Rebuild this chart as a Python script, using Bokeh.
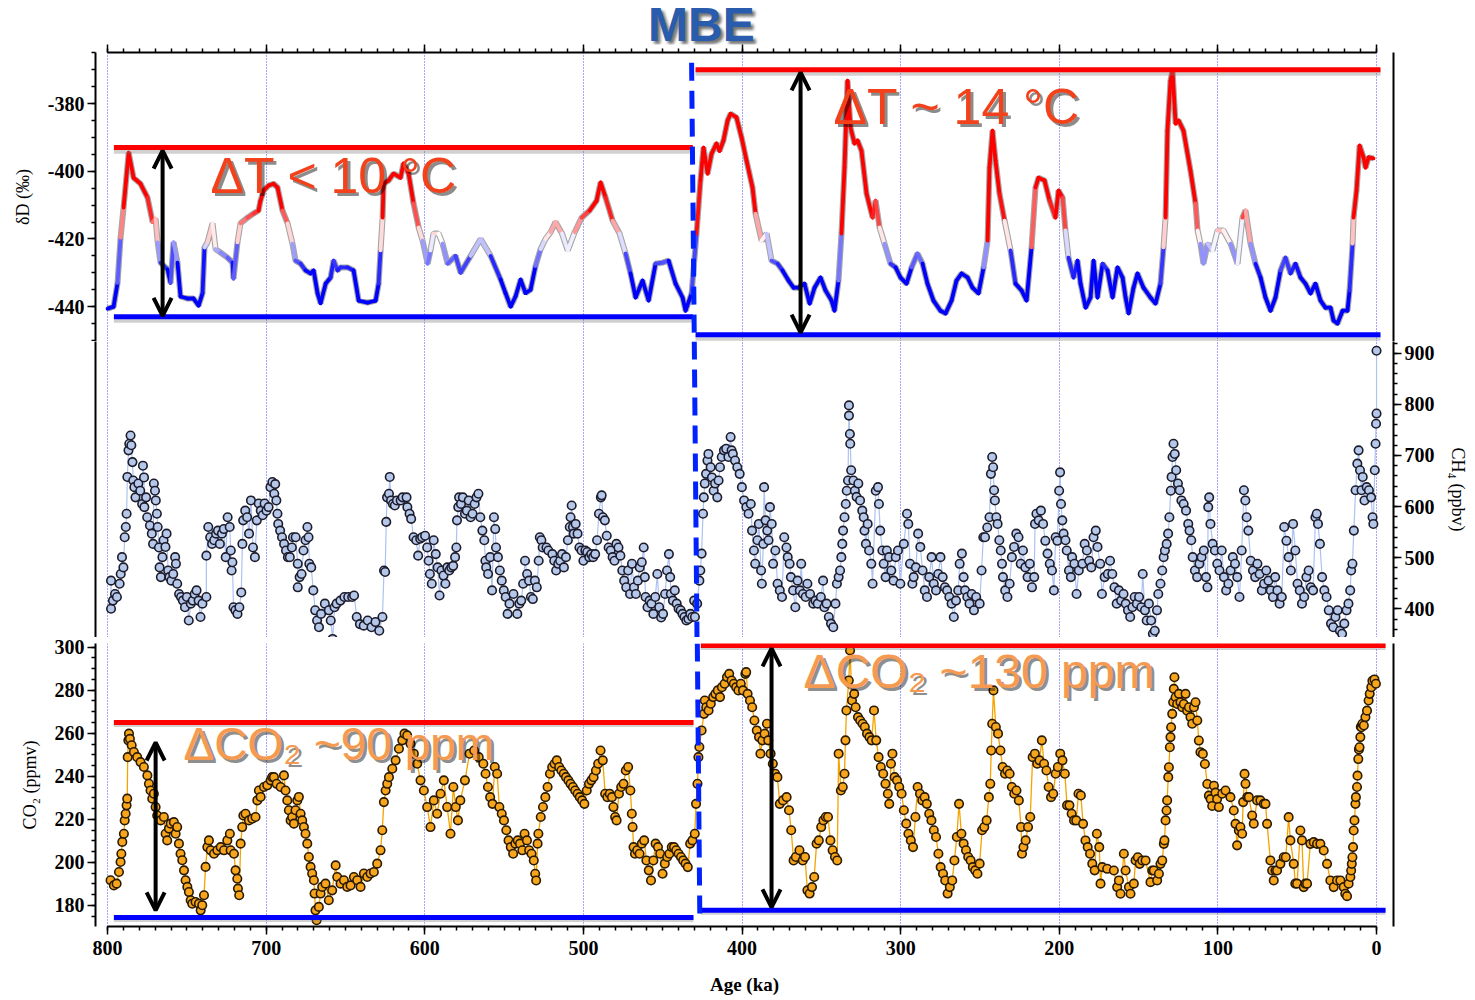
import numpy as np
from bokeh.plotting import figure
from bokeh.models import (Range1d, LinearAxis, SingleIntervalTicker, FixedTicker, Grid,
                          Label, Arrow, OpenHead, ColumnDataSource, Div)
from bokeh.transform import linear_cmap
from bokeh.layouts import column
from bokeh.embed import file_html
from bokeh.resources import INLINE

# ---------------- data ----------------
# deuterium record (permil) vs age (ka)
dD_age = [800, 796.2, 793.7, 791.8, 789.9, 786.7, 783.6, 779.2, 774.8, 771.6,
          769.7, 768.4, 766.6, 762.2, 760.3, 758.4, 755.9, 754, 749.6, 745.8,
          742.6, 740.1, 738.9, 737, 733.8, 731.9, 728.8, 724.4, 721.2, 720.6,
          718.1, 716.2, 711.8, 708, 704.8, 703.6, 701.6, 698.5, 695.3, 692.8,
          689.7, 686.5, 683.4, 681.5, 678.3, 675.2, 672, 670.1, 667.6, 665.7,
          662.5, 659.4, 657.5, 655, 653.1, 648.7, 644.9, 641.7, 636.1, 631,
          629.1, 627.9, 626.6, 626, 622.8, 619.7, 615.3, 613.4, 610.2, 607.1,
          603.9, 601.4, 598.2, 596.4, 594.5, 591.3, 588.8, 585.6, 580.6, 577.4,
          571.1, 564.8, 558.5, 552.2, 549.1, 545.9, 542.8, 539.6, 536.5, 533.3,
          530.2, 527, 523.9, 520.7, 517.6, 513.5, 509.9, 505.5, 501.1, 496.1,
          491.7, 489.2, 486, 481.6, 477.2, 473.4, 470.3, 467.1, 462.7, 458.9,
          454.5, 450.1, 446.3, 441.9, 437.5, 435.6, 431.8, 428.7, 426.2, 424.3,
          421.7, 419.2, 416.1, 414.2, 411.7, 409.1, 407.2, 403.5, 400.3, 397.2,
          393.4, 391.5, 387.7, 384.5, 381.4, 377.6, 374.5, 370.7, 367.5, 364.4,
          360.6, 357.4, 354.3, 350.5, 347.4, 343.6, 341.7, 339.2, 337.3, 335.4,
          333.5, 331.6, 329.1, 327.2, 324.7, 321.5, 317.7, 315.8, 313.3, 310.2,
          306.4, 303.2, 300.1, 296.3, 293.1, 289.4, 286.2, 283.1, 279.3, 274.9,
          271.7, 267.9, 264.8, 261.6, 257.8, 254.7, 250.9, 247.7, 245.2, 244,
          242.1, 240.2, 237.7, 234.5, 230.7, 227.6, 223.8, 220.6, 217.5, 215,
          213.1, 209.3, 206.1, 202.4, 200.5, 197.9, 196.1, 194.2, 191, 188.5,
          186.6, 183.4, 180.3, 178.4, 175.9, 172.7, 169.6, 166.4, 163.3, 160.1,
          158.2, 156.3, 153.2, 150.7, 146.9, 142.5, 139.3, 136.2, 134.3, 133,
          131.8, 129.9, 128.6, 126.7, 124.8, 121.7, 117.3, 114.1, 112.8, 111,
          109.1, 106.5, 103.4, 100.2, 96.5, 92, 87.6, 84.5, 82.6, 79.4,
          76.3, 73.1, 70, 66.8, 63.7, 60.5, 57.4, 54.2, 51.1, 47.9,
          44.8, 41.6, 38.5, 35.3, 32.2, 29, 27.1, 24.6, 21.4, 18.3,
          17, 15.1, 14.5, 12.6, 10.7, 8.2, 6.9, 5, 1.9]
dD_val = [-440.6, -440, -433, -419.6, -410.7, -394.5, -401.9, -403.7, -407.8, -415,
          -414, -421, -427, -429, -433, -421, -427, -437, -437.6, -437.6,
          -439.7, -436, -422.5, -421, -415.4, -423, -424, -425.5, -427, -431.7,
          -421, -415.4, -413.7, -412.5, -411.6, -408.7, -405.7, -404.2, -403.7, -404.8,
          -411.6, -415.4, -421.4, -426.4, -427.3, -429.3, -430.2, -429.3, -436.1, -439,
          -433.2, -431.4, -426.4, -429.3, -428.4, -428.4, -429.3, -438.2, -438.8, -438.2,
          -433.2, -423.4, -413.7, -403.7, -402.7, -400.7, -401.9, -397.7, -400.7, -409.5,
          -416.6, -420.5, -427.3, -423.4, -418.4, -418.4, -421.4, -427.3, -425, -430,
          -425, -420, -425, -432, -436, -440, -437, -432, -436, -435,
          -428, -423, -420, -418, -415, -418.4, -423.4, -418, -413.7, -411.6,
          -408.7, -403.3, -407.8, -414.6, -418.4, -424.3, -430.2, -437.3, -432.3, -438.2,
          -427.3, -427, -426.4, -433.2, -437.3, -441.2, -436.1, -418.4, -402.7, -393,
          -400.7, -394.8, -391.8, -394, -390.9, -385, -383, -384.1, -390, -396.8,
          -404.8, -412.5, -420.5, -418.4, -426.4, -427.3, -429.3, -432.3, -434.4, -434.4,
          -433.2, -439.1, -434.4, -431.4, -435.2, -438.2, -441.2, -432.3, -418.4, -398.9,
          -373.2, -387.1, -391.8, -390.9, -393.9, -406.6, -413.7, -408.7, -416.6, -421.4,
          -427.3, -428.4, -431.4, -433.2, -428.4, -424.3, -427.3, -433.2, -438.2, -441.2,
          -442, -438.2, -432.3, -430.2, -431.4, -434.4, -436.1, -428.4, -420.5, -398.9,
          -388, -396.8, -406.6, -414.6, -423.4, -433.2, -435.2, -438.2, -422.5, -404.8,
          -401.9, -402.7, -408.7, -413.7, -405.7, -407.8, -417.5, -425.5, -431.4, -426.4,
          -433.2, -440.3, -437.3, -426.4, -437.3, -427.3, -429.3, -437.3, -428.4, -431.4,
          -437.3, -442, -434.4, -430.2, -434.4, -437.3, -439.1, -433.2, -422.5, -413.7,
          -388, -373.2, -370.2, -385.9, -385, -388, -399.8, -409.5, -417.5, -421.4,
          -427.3, -421.4, -423.4, -417.5, -417.5, -421.4, -427.3, -413.7, -411.6, -421.4,
          -427.3, -431.4, -437.3, -441.2, -437.3, -429.3, -425.5, -430.2, -427.3, -431.4,
          -433.2, -436.1, -433.2, -438.2, -440.3, -440.3, -444.1, -445, -441.2, -441.2,
          -435.2, -421.4, -413.7, -405.7, -392.4, -395.9, -398.9, -395.9, -396.2]

# methane (ppbv) vs age (ka)
ch4_age = [797.8, 797.8, 796.6, 795.3, 794.1, 792.4, 791.7, 790.9, 790.0, 789.2,
           788.5, 788.0, 787.5, 786.8, 786.3, 785.5, 785.0, 784.3, 783.8, 783.1,
           782.4, 780.6, 779.4, 778.2, 777.7, 777.0, 776.8, 775.7, 775.0, 773.3,
           772.1, 771.3, 770.8, 770.1, 769.6, 768.9, 768.4, 767.6, 767.2, 766.4,
           765.4, 764.7, 763.5, 762.8, 761.8, 761.0, 759.8, 758.6, 757.4, 756.9,
           756.1, 754.9, 753.7, 752.5, 751.2, 750.0, 748.8, 747.5, 746.3, 745.1,
           743.9, 742.6, 741.4, 740.2, 737.7, 737.7, 736.5, 735.3, 734.1, 732.8,
           731.6, 730.4, 729.2, 727.9, 726.7, 725.5, 724.3, 723.0, 722.3, 721.8,
           721.3, 720.6, 719.4, 718.1, 716.9, 715.7, 715.0, 714.5, 713.2, 712.0,
           710.8, 709.6, 708.3, 707.1, 705.9, 704.7, 703.4, 702.2, 701.0, 699.8,
           698.5, 697.3, 696.1, 694.9, 694.3, 693.6, 692.9, 692.4, 691.2, 690.0,
           688.7, 687.5, 686.3, 685.1, 683.8, 683.1, 681.4, 680.1, 680.1, 678.9,
           677.7, 676.5, 675.2, 674.0, 673.3, 672.8, 671.6, 670.3, 669.1, 667.9,
           666.7, 665.4, 663.0, 660.5, 659.3, 658.1, 656.9, 655.6, 653.2, 650.7,
           648.3, 645.8, 644.6, 642.9, 640.9, 638.5, 636.0, 633.6, 631.1, 628.7,
           626.7, 625.7, 625.0, 624.3, 623.8, 622.6, 622.1, 621.3, 620.1, 618.9,
           617.6, 615.2, 614.0, 611.5, 611.0, 609.6, 608.6, 607.1, 605.4, 604.2,
           602.9, 601.7, 599.8, 598.5, 597.6, 596.8, 595.6, 594.4, 593.1, 591.9,
           590.7, 589.5, 588.2, 587.0, 585.8, 584.6, 583.3, 582.1, 580.9, 580.1,
           579.7, 578.9, 578.4, 577.2, 576.0, 574.7, 573.5, 572.3, 571.1, 569.9,
           568.6, 567.4, 566.2, 565.0, 563.7, 562.5, 561.8, 561.3, 560.1, 558.8,
           557.6, 556.4, 555.6, 555.1, 553.9, 552.7, 551.5, 550.2, 549.0, 547.8,
           546.6, 544.1, 541.7, 540.4, 539.2, 538.0, 536.8, 535.5, 534.3, 533.1,
           531.9, 530.6, 529.4, 528.2, 527.5, 526.5, 525.7, 523.3, 522.1, 519.6,
           518.4, 517.2, 515.9, 514.7, 513.5, 512.3, 511.0, 509.8, 508.6, 508.1,
           507.4, 506.6, 506.1, 504.9, 503.7, 502.5, 501.2, 500.0, 498.8, 497.6,
           496.3, 495.1, 493.9, 492.6, 491.4, 490.2, 489.0, 488.5, 487.7, 486.5,
           485.3, 484.1, 482.8, 481.6, 480.4, 479.2, 477.9, 476.7, 475.5, 474.3,
           473.0, 471.8, 470.6, 469.4, 468.1, 466.9, 465.7, 464.5, 463.2, 462.0,
           461.3, 460.8, 459.6, 458.3, 457.1, 455.9, 454.7, 453.4, 452.2, 451.0,
           449.8, 448.5, 447.3, 446.1, 445.3, 444.9, 443.6, 442.4, 441.2, 440.0,
           438.7, 437.5, 436.3, 435.1, 433.8, 432.6, 431.4, 430.2,
           429.7, 428.3, 426.9, 426.3, 425.5, 424.6, 424.1, 423.5, 422.7, 421.8,
           421.2, 419.8, 419.0, 417.9, 417.0, 415.6, 414.8, 413.9, 412.8, 411.4,
           410.0, 408.6, 407.2, 406.6, 405.8, 404.4, 403.0, 401.5, 400.1, 398.7,
           397.3, 395.9, 394.5, 393.7, 392.5, 391.7, 390.3, 389.4, 388.0, 387.5,
           386.6, 386.1, 385.2, 384.1, 383.3, 382.4, 381.3, 380.4, 379.0, 377.6,
           376.2, 374.8, 373.4, 372.0, 371.2, 370.0, 369.2, 367.8, 366.4, 365.0,
           363.6, 362.7, 361.6, 359.9, 358.8, 357.1, 355.1, 353.7, 352.3, 350.3,
           348.9, 348.1, 346.7, 345.3, 343.9, 342.5, 341.1, 340.2, 339.1, 338.2,
           337.4, 336.8, 336.3, 335.4, 334.6, 334.0, 333.2, 332.6, 332.6, 332.0,
           331.8, 331.2, 329.8, 328.9, 327.8, 326.7, 325.6, 324.2, 323.3, 322.8,
           321.9, 320.8, 319.9, 318.5, 317.7, 315.7, 314.3, 313.7, 312.9, 311.5,
           310.7, 309.5, 308.7, 307.3, 305.9, 304.5, 303.1, 301.7, 300.2, 298.0,
           296.0, 295.2, 294.1, 292.6, 291.8, 290.4, 289.0, 287.6, 286.2, 284.8,
           283.4, 282.0, 280.5, 279.1, 277.7, 276.3, 274.9, 273.5, 272.1, 270.7,
           269.3, 267.9, 266.5, 265.1, 263.7, 262.8, 261.4, 260.3, 259.4, 258.0,
           256.6, 255.2, 253.8, 252.4, 250.2, 249.0, 247.9, 246.8, 245.4, 244.0,
           243.1, 242.3, 241.7, 241.1, 240.6, 239.7, 238.9, 237.8, 236.9, 236.1,
           235.5, 234.1, 232.7, 231.3, 229.9, 228.5, 227.1, 225.7, 224.3, 222.9,
           221.4, 220.0, 218.6, 217.2, 215.8, 215.3, 214.4, 213.0, 211.6, 210.2,
           208.8, 207.4, 206.0, 204.6, 203.4, 202.3, 201.2, 200.1, 199.5, 198.9,
           198.1, 197.3, 196.1, 195.3, 193.9, 192.7, 191.9, 190.5, 189.1, 187.7,
           185.4, 184.0, 182.6, 181.2, 179.8, 178.4, 177.0, 175.9, 174.2, 173.1,
           171.4, 169.4, 168.0, 166.6, 165.2, 163.8, 162.4, 161.0, 159.5, 158.1,
           156.7, 155.3, 153.9, 152.5, 151.1, 149.7, 148.3, 147.4, 146.0, 144.9,
           143.5, 142.1, 141.0, 139.8, 138.4, 137.6, 136.2, 135.1, 134.2, 133.4,
           132.3, 131.4, 130.6, 129.7, 129.2, 128.6, 128.0, 127.2, 126.3, 125.2,
           124.1, 123.0, 121.6, 120.1, 118.7, 117.9, 116.8, 115.9, 114.5, 113.1,
           111.7, 110.3, 108.9, 107.5, 106.6, 106.1, 105.5, 104.7, 103.3, 101.9,
           100.4, 99.0, 97.6, 96.2, 94.8, 93.4, 92.0, 90.6, 89.2, 87.8,
           86.4, 85.0, 83.6, 82.7, 81.9, 80.8, 79.3, 77.9, 76.5, 75.1,
           73.7, 72.3, 70.9, 69.5, 68.1, 66.7, 65.3, 63.9, 62.5, 61.1,
           59.7, 58.2, 56.8, 55.4, 54.0, 52.6, 51.2, 49.8, 48.4, 47.0,
           45.6, 44.2, 42.8, 41.4, 40.0, 38.5, 37.7, 36.9, 35.7, 34.3,
           32.9, 31.5, 30.1, 28.7, 27.3, 25.9, 24.5, 23.1, 21.7, 20.3,
           18.9, 17.7, 16.6, 16.0, 15.2, 14.3, 13.2, 12.1, 11.3, 10.4,
           9.5, 8.7, 7.6, 6.2, 4.8, 3.4, 2.5, 2.0, 1.1, 0.6,
           0.3, 0.0, 0.0]
ch4_val = [455, 400, 416, 429, 423, 449, 468, 501, 481, 540,
           560, 586, 658, 710, 723, 739, 720, 687, 651, 638,
           618, 645, 631, 605, 680, 657, 599, 618, 579, 563,
           547, 527, 645, 631, 612, 586, 560, 520, 481, 462,
           501, 534, 521, 547, 475, 462, 455, 468, 501, 488,
           449, 429, 423, 416, 403, 423, 377, 410, 416, 429,
           436, 416, 384, 410, 423, 504, 560, 540, 527, 534,
           547, 553, 527, 547, 556, 501, 579, 560, 514, 475,
           491, 403, 397, 390, 403, 432, 527, 573, 592, 579,
           547, 612, 520, 501, 573, 606, 592, 583, 606, 592,
           599, 638, 648, 625, 644, 612, 586, 566, 553, 540,
           527, 514, 501, 501, 520, 540, 540, 488, 442, 462,
           468, 514, 534, 560, 540, 488, 481, 436, 397, 377,
           364, 390, 410, 397, 377, 341, 403, 410, 416, 423,
           423, 423, 426, 384, 370, 367, 377, 364, 374, 357,
           384, 475, 472, 570, 618, 625, 658, 612, 605, 602,
           612, 612, 618, 618, 599, 586, 576, 540, 534, 504,
           537, 540, 543, 520, 494, 468, 449, 534, 507, 481,
           426, 475, 465, 449, 481, 475, 481, 484, 501, 520,
           573, 599, 618, 605, 618, 586, 592, 612, 579, 586,
           605, 618, 625, 579, 553, 534, 494, 481, 468, 501,
           436, 579, 556, 520, 501, 475, 455, 436, 423, 390,
           410, 429, 390, 410, 416, 449, 494, 468, 455, 423,
           419, 455, 442, 494, 540, 534, 520, 520, 514, 507,
           494, 475, 488, 494, 507, 481, 501, 534, 560, 579,
           602, 560, 547, 566, 547, 520, 514, 494, 514, 511,
           501, 507, 501, 507, 534, 586, 618, 622, 579, 573,
           543, 520, 514, 501, 494, 527, 520, 504, 475, 455,
           442, 475, 429, 488, 442, 429, 455, 481, 491, 520,
           462, 423, 403, 416, 410, 390, 423, 468, 403, 383,
           390, 429, 475, 507, 462, 429, 416, 436, 410, 400,
           397, 390, 384, 377, 380, 390, 384, 416,
           384, 410, 455, 475, 508, 586, 618, 645, 664, 690,
           703, 677, 657, 631, 645, 618, 651, 677, 697, 710,
           713, 697, 736, 710, 703, 690, 677, 664, 638, 612,
           599, 586, 605, 553, 514, 488, 534, 566, 475, 449,
           527, 638, 573, 553, 534, 599, 566, 488, 514, 449,
           436, 423, 540, 520, 501, 488, 462, 436, 403, 455,
           436, 488, 429, 423, 449, 429, 410, 416, 410, 423,
           455, 403, 410, 384, 371, 364, 410, 449, 462, 475,
           501, 527, 553, 579, 605, 631, 651, 798, 778, 742,
           723, 671, 651, 631, 619, 645, 612, 592, 579, 553,
           527, 566, 514, 488, 449, 631, 638, 605, 553, 514,
           488, 462, 514, 501, 475, 455, 501, 514, 449, 527,
           586, 566, 488, 449, 462, 481, 547, 521, 475, 436,
           423, 462, 501, 449, 436, 468, 501, 462, 442, 436,
           423, 410, 384, 416, 436, 488, 508, 462, 436, 423,
           410, 429, 397, 423, 410, 475, 540, 540, 559, 579,
           664, 697, 677, 632, 612, 579, 566, 534, 514, 488,
           462, 436, 423, 449, 501, 521, 547, 540, 488, 514,
           481, 462, 488, 442, 462, 566, 586, 573, 592, 566,
           533, 508, 488, 475, 436, 540, 533, 631, 667, 605,
           573, 547, 534, 514, 475, 462, 501, 488, 429, 475,
           488, 527, 514, 494, 481, 540, 553, 521, 488, 429,
           462, 468, 494, 468, 442, 410, 436, 416, 429, 410,
           397, 384, 403, 423, 410, 423, 403, 468, 397, 377,
           410, 377, 351, 357, 397, 429, 449, 475, 501, 514,
           527, 547, 579, 631, 658, 697, 723, 703, 671, 645,
           632, 612, 605, 592, 566, 553, 534, 501, 475, 462,
           488, 501, 514, 462, 442, 599, 618, 566, 527, 514,
           488, 475, 514, 462, 436, 449, 475, 501, 488, 462,
           423, 514, 632, 612, 579, 553, 494, 475, 462, 488,
           468, 436, 449, 475, 455, 436, 423, 462, 436, 410,
           423, 560, 533, 501, 475, 566, 514, 449, 436, 410,
           423, 462, 475, 442, 436, 579, 586, 566, 527, 462,
           436, 423, 397, 371, 364, 384, 397, 357, 351, 371,
           397, 410, 436, 475, 488, 553, 632, 684, 710, 671,
           632, 658, 612, 638, 632, 618, 579, 566, 671, 723,
           762, 782, 905]

# carbon dioxide (ppmv) vs age (ka)
co2_age = [798.1, 796.0, 794.3, 792.8, 791.8, 791.3, 790.7, 789.7, 789.2, 788.6,
           788.0, 787.6, 787.3, 786.9, 786.5, 785.9, 784.8, 783.4, 781.3, 779.2,
           777.1, 774.9, 773.9, 772.9, 771.8, 770.8, 769.7, 768.7, 766.5, 764.5,
           763.4, 762.4, 761.3, 760.2, 758.2, 757.1, 756.1, 755.0, 754.0, 752.9,
           751.8, 750.8, 749.7, 748.7, 747.6, 746.6, 744.5, 742.4, 741.3, 740.3,
           739.2, 738.2, 737.1, 736.1, 735.0, 732.9, 730.8, 728.7, 726.6, 724.5,
           722.9, 722.4, 720.3, 719.3, 718.2, 717.8, 717.0, 716.1, 715.1, 714.4,
           713.0, 710.9, 708.8, 706.7, 705.6, 704.6, 703.5, 701.4, 699.3, 697.2,
           696.2, 695.1, 693.4, 690.9, 688.8, 687.8, 686.7, 685.7, 684.6, 683.6,
           682.5, 681.5, 680.4, 679.4, 678.3, 677.3, 676.2, 675.2, 674.1, 673.1,
           672.0, 671.0, 669.9, 669.5, 668.9, 668.2, 666.8, 665.7, 664.7, 662.6,
           660.5, 658.4, 656.2, 655.2, 653.1, 651.0, 648.9, 646.8, 644.7, 642.6,
           640.5, 638.4, 636.3, 634.2, 632.1, 630.0, 627.9, 626.8, 625.8, 624.7,
           623.7, 622.6, 620.5, 618.4, 616.3, 614.2, 612.8, 611.1, 609.0, 606.9,
           604.8, 602.7, 600.6, 598.5, 596.4, 594.3, 592.2, 590.1, 588.0, 585.9,
           583.8, 582.0, 580.5, 579.1, 577.6, 574.7, 571.8, 568.9, 566.0, 563.1,
           561.7, 560.2, 558.8, 557.3, 555.9, 554.4, 553.0, 551.5, 550.1, 548.6,
           547.2, 545.8, 544.3, 542.9, 541.4, 540.0, 538.5, 537.1, 535.6, 534.2,
           532.7, 531.3, 530.4, 529.8, 528.9, 528.4, 526.9, 525.5, 524.0, 522.6,
           521.1, 519.7, 518.2, 516.8, 515.3, 513.9, 512.4, 511.0, 509.5, 508.1,
           506.6, 505.2, 503.7, 502.3, 500.8, 499.4, 497.9, 496.5, 495.0, 493.6,
           492.1, 490.7, 489.2, 487.8, 486.3, 484.9, 483.4, 482.0, 481.1, 480.0,
           479.1, 477.6, 476.2, 474.7, 473.3, 471.8, 470.4, 469.5, 469.0, 468.4,
           467.5, 466.1, 464.6, 463.2, 461.7, 460.3, 458.8, 457.4, 455.9, 454.5,
           453.0, 451.6, 450.1, 448.7, 447.2, 445.8, 444.3, 442.9, 441.5, 440.0,
           438.5, 437.1, 435.6, 434.2, 432.7, 431.3, 429.8, 429.0, 428.1, 427.5,
           426.9, 425.5, 424.0, 423.5, 422.6, 421.1, 419.7, 418.2, 416.8, 415.3,
           413.9, 412.7, 411.0, 409.5, 408.1, 406.6, 405.2, 403.7, 402.3, 400.8,
           399.4, 397.9, 397.4, 396.5, 395.0, 393.6, 392.2, 390.7, 389.3, 388.4,
           387.2, 385.8, 384.3, 383.5, 382.0, 380.6, 379.1, 377.7, 376.2, 374.2,
           371.9, 370.4, 369.0, 367.5, 366.1, 363.8, 361.7, 360.3, 358.8, 357.4,
           355.9, 354.5, 353.0, 351.6, 350.1, 348.7, 347.2, 345.8, 344.3, 342.9,
           341.4, 340.0, 339.1, 337.7, 336.5, 335.4, 334.8, 334.2, 332.7, 331.9,
           330.7, 329.3, 328.4, 326.9, 325.5, 324.0, 322.6, 321.2, 319.7, 318.3,
           316.8, 315.4, 313.9, 312.5, 311.0, 309.6, 308.1, 307.2, 306.1, 305.2,
           303.8, 302.3, 300.9, 299.4, 298.0, 296.5, 295.1, 293.6, 292.2, 290.7,
           289.3, 287.8, 286.4, 284.9, 283.5, 282.0, 280.6, 279.1, 277.7, 276.2,
           274.8, 273.3, 271.9, 270.4, 269.0, 267.5, 266.1, 264.6, 263.2, 261.7,
           260.3, 258.8, 257.4, 255.9, 254.5, 253.0, 251.6, 250.2, 248.7, 247.3,
           245.8, 244.4, 243.5, 242.9, 242.3, 241.5, 240.0, 238.6, 237.1, 235.7,
           234.2, 232.8, 231.3, 229.9, 228.4, 227.0, 225.5, 224.1, 223.5, 222.6,
           221.2, 219.7, 218.3, 216.8, 215.4, 213.9, 212.5, 211.0, 209.6, 208.1,
           206.7, 205.2, 203.8, 202.3, 200.9, 199.4, 198.0, 196.5, 195.1, 193.6,
           192.2, 190.7, 189.3, 187.9, 186.4, 185.0, 183.5, 182.1, 180.6, 179.2,
           177.7, 176.3, 174.8, 174.0, 172.9, 169.8, 165.6, 163.5, 162.4, 161.4,
           159.3, 158.2, 156.1, 155.1, 153.0, 151.9, 150.5, 149.3, 147.7, 145.6,
           142.5, 141.4, 140.4, 138.3, 137.2, 136.2, 135.1, 134.1, 133.7, 133.0,
           132.4, 132.0, 131.3, 130.9, 130.3, 129.9, 129.5, 128.8, 128.2, 127.8,
           127.4, 126.7, 125.7, 124.6, 123.6, 122.5, 121.5, 120.4, 119.4, 118.3,
           117.3, 116.2, 115.1, 114.1, 113.0, 112.0, 111.0, 109.5, 108.2, 106.7,
           105.7, 104.6, 103.6, 102.5, 101.5, 100.5, 99.4, 97.3, 95.2, 92.1,
           90.0, 88.9, 87.9, 86.8, 85.8, 84.7, 84.1, 83.2, 82.6, 81.5,
           80.5, 78.4, 77.4, 75.3, 73.2, 71.1, 70.0, 69.0, 66.9, 65.8,
           64.8, 63.7, 62.7, 60.6, 58.5, 57.2, 55.4, 54.3, 52.2, 51.2,
           50.1, 48.0, 47.0, 45.9, 44.9, 43.8, 41.7, 39.6, 37.5, 35.4,
           33.3, 31.2, 29.1, 27.0, 24.9, 22.8, 20.7, 19.7, 18.6, 17.6,
           16.5, 16.0, 15.6, 15.2, 14.8, 14.4, 13.9, 13.3, 13.0, 12.3,
           12.0, 11.5, 11.1, 10.7, 10.2, 9.9, 9.5, 8.9, 8.0, 7.0,
           6.0, 5.0, 4.3, 3.3, 2.6, 1.3, 0.4]
co2_val = [191.7, 189.3, 190.1, 195.5, 200.2, 204.0, 209.5, 213.3, 219.5, 222.6,
           226.5, 229.6, 248.9, 256.7, 259.8, 257.4, 254.4, 251.3, 248.9, 246.6,
           244.3, 240.4, 236.5, 233.4, 229.6, 231.9, 225.7, 221.8, 219.5, 221.1,
           213.3, 210.2, 215.7, 218.0, 218.7, 213.3, 216.4, 208.7, 204.0, 201.0,
           196.3, 191.7, 188.6, 186.2, 182.4, 180.8, 181.6, 180.8, 177.7, 180.1,
           184.7, 197.9, 207.1, 210.2, 205.6, 204.0, 205.6, 207.1, 205.6, 210.2,
           213.3, 205.6, 204.0, 196.3, 192.4, 187.8, 184.7, 208.7, 216.4, 221.8,
           222.6, 219.5, 220.3, 221.1, 228.8, 233.4, 230.4, 235.0, 235.8, 238.1,
           239.6, 239.6, 236.5, 235.0, 240.4, 233.4, 228.8, 224.2, 219.5, 221.1,
           218.0, 224.2, 228.8, 230.4, 222.6, 219.5, 216.4, 213.3, 208.7, 202.5,
           197.9, 194.8, 191.7, 185.5, 177.7, 173.1, 179.3, 185.5, 188.6, 190.1,
           182.4, 187.0, 198.6, 193.2, 190.1, 191.7, 188.6, 189.3, 193.2, 191.7,
           188.6, 194.8, 193.2, 194.8, 195.5, 199.4, 205.6, 214.9, 228.0, 233.4,
           236.5, 239.6, 243.5, 247.4, 252.8, 256.7, 259.8, 259.0, 255.1, 250.5,
           245.8, 238.1, 233.4, 225.7, 216.4, 228.8, 222.6, 231.9, 238.1, 225.7,
           213.3, 235.0, 225.7, 219.5, 228.8, 238.1, 250.5, 252.0, 248.9, 245.8,
           241.2, 235.0, 230.3, 227.2, 244.3, 241.2, 225.7, 222.6, 219.5, 214.9,
           210.2, 207.1, 204.0, 208.7, 210.2, 208.7, 205.6, 213.3, 210.2, 205.6,
           204.0, 200.9, 194.7, 191.6, 208.7, 213.3, 221.1, 225.7, 230.3, 235.0,
           241.2, 244.3, 245.8, 247.4, 244.3, 242.7, 241.2, 239.6, 238.1, 236.5,
           235.0, 233.4, 231.9, 230.3, 228.8, 227.2, 233.4, 236.5, 238.1, 239.6,
           242.7, 245.8, 252.0, 247.4, 231.9, 230.3, 231.9, 230.3, 225.7, 221.1,
           219.5, 231.9, 235.0, 236.5, 242.7, 244.3, 233.4, 222.6, 216.4, 207.1,
           204.0, 205.6, 204.0, 208.7, 210.2, 200.9, 196.3, 191.6, 200.9, 208.7,
           207.1, 204.0, 194.7, 199.4, 202.5, 204.0, 207.1, 207.1, 205.6, 204.0,
           202.5, 200.9, 199.4, 197.8, 208.7, 210.2, 213.3, 227.2, 236.5, 248.9,
           253.6, 261.3, 269.0, 275.2, 272.1, 270.6, 273.7, 276.8, 278.3, 279.9,
           276.8, 281.4, 283.0, 286.1, 287.6, 284.5, 283.0, 281.4, 279.9, 283.0,
           279.9, 287.6, 288.4, 278.3, 275.2, 272.1, 265.9, 261.3, 258.2, 250.5,
           256.7, 259.8, 264.4, 256.7, 250.5, 245.8, 241.2, 239.6, 227.2, 228.8,
           230.3, 224.2, 214.9, 200.9, 202.5, 205.6, 200.9, 202.5, 187.0, 185.5,
           188.5, 193.2, 208.7, 210.2, 216.4, 219.5, 221.1, 221.1, 210.2, 205.6,
           202.5, 200.9, 250.5, 233.4, 235.0, 241.2, 256.7, 270.6, 284.5, 298.5,
           275.2, 278.3, 272.1, 267.5, 265.9, 264.4, 262.9, 259.8, 258.2, 256.7,
           270.6, 256.7, 248.9, 244.3, 241.2, 236.5, 231.9, 227.2, 245.8, 250.5,
           239.6, 238.1, 235.0, 231.9, 224.2, 218.0, 213.3, 210.2, 207.1, 221.1,
           235.0, 231.9, 228.8, 230.3, 227.2, 222.6, 219.5, 214.9, 211.8, 204.0,
           197.8, 194.7, 191.6, 185.5, 188.5, 191.6, 200.9, 211.8, 227.2, 213.3,
           208.7, 205.6, 202.5, 200.9, 197.8, 196.3, 194.7, 199.4, 214.9, 216.4,
           219.5, 230.3, 236.5, 252.0, 264.4, 279.9, 262.9, 259.8, 252.0, 244.3,
           241.2, 242.7, 241.2, 235.0, 231.9, 233.4, 228.8, 216.4, 204.0, 207.1,
           210.2, 216.4, 221.1, 248.9, 250.5, 245.8, 247.4, 256.7, 245.8, 242.7,
           235.0, 230.3, 231.9, 241.2, 244.3, 250.5, 247.4, 241.2, 226.5, 226.5,
           222.6, 219.5, 219.5, 231.9, 231.1, 217.9, 210.2, 207.1, 204.0, 199.4,
           196.3, 213.3, 207.1, 190.1, 197.8, 197.0, 196.2, 188.5, 191.6, 185.4,
           204.0, 196.2, 188.5, 185.4, 190.1, 200.9, 202.4, 199.3, 200.9, 200.9,
           190.8, 196.2, 196.2, 191.6, 194.7, 199.3, 200.9, 208.6, 210.2, 219.5,
           224.1, 228.8, 239.6, 244.2, 253.5, 258.2, 262.8, 269.0, 274.4, 280.6,
           286.0, 276.7, 273.6, 278.3, 274.4, 272.1, 273.6, 278.3, 270.5, 272.1,
           267.5, 264.4, 272.1, 274.4, 265.9, 256.6, 251.2, 250.4, 245.7, 236.4,
           231.0, 229.4, 226.2, 235.6, 232.4, 229.4, 225.7, 231.9, 233.4, 230.3,
           224.1, 217.9, 207.9, 214.8, 216.4, 213.3, 228.0, 241.1, 236.5, 230.3,
           230.3, 221.8, 218.0, 228.8, 228.8, 227.2, 227.2, 217.9, 200.9, 196.2,
           191.6, 196.2, 196.2, 199.3, 202.4, 202.4, 221.0, 210.2, 199.3, 190.1,
           190.1, 214.8, 210.2, 188.5, 190.1, 190.1, 208.6, 209.4, 208.6, 208.6,
           205.5, 199.3, 191.6, 188.5, 191.6, 191.6, 188.5, 185.4, 184.3, 190.1,
           193.2, 196.2, 199.3, 202.4, 207.1, 214.8, 219.5, 227.2, 230.3, 235.0,
           240.3, 248.0, 252.5, 253.5, 258.2, 263.0, 262.8, 264.4, 263.6, 267.5,
           270.5, 275.2, 278.3, 281.4, 284.4, 285.0, 283.0]

# reference levels and annotations
dD_old_max, dD_old_min = -393.0, -443.0
dD_new_max, dD_new_min = -370.0, -448.3
co2_old_max, co2_old_min = 265.0, 174.4
co2_new_max, co2_new_min = 300.8, 177.7
old_span = (796.0, 431.0)
new_span = (429.3, -2.5)
new_span_co2 = (426.0, -5.7)

for a, b, n in [(dD_age, dD_val, "dD"), (ch4_age, ch4_val, "ch4"), (co2_age, co2_val, "co2")]:
    assert len(a) == len(b), (n, len(a), len(b))

# ---------------- figures ----------------
x_range = Range1d(807.6, -10.7)
TICK_FONT = "Liberation Serif"
BIG_FONT = "Liberation Sans"
W = 1473
LEFT, RIGHT = 95, 80


def make_fig(h, y0, y1, top, bottom):
    p = figure(width=W, height=h, x_range=x_range, y_range=Range1d(y0, y1),
               output_backend="svg", toolbar_location=None,
               x_axis_location=None, y_axis_location=None,
               min_border_left=LEFT, min_border_right=RIGHT,
               min_border_top=top, min_border_bottom=bottom,
               outline_line_color=None, background_fill_color="white",
               border_fill_color="white", margin=0)
    p.center = [r for r in p.center if not isinstance(r, Grid)]
    p.add_layout(Grid(dimension=0, ticker=SingleIntervalTicker(interval=100),
                      grid_line_color="#4d4dff", grid_line_dash="1 2",
                      grid_line_width=1))
    return p


def style_axis(ax):
    ax.axis_line_width = 2
    ax.axis_line_color = "black"
    ax.major_tick_line_width = 1.5
    ax.minor_tick_line_width = 1.5
    ax.major_tick_line_color = "black"
    ax.minor_tick_line_color = "black"
    ax.major_tick_in = 0
    ax.minor_tick_in = 0
    ax.major_tick_out = 8
    ax.minor_tick_out = 4
    ax.major_label_text_font = TICK_FONT
    ax.major_label_text_font_style = "bold"
    ax.major_label_text_font_size = "20px"
    ax.major_label_text_color = "black"
    ax.major_label_standoff = 3
    ax.axis_label_text_font = TICK_FONT
    ax.axis_label_text_font_style = "normal"
    ax.axis_label_text_font_size = "18px"
    ax.axis_label_text_color = "black"
    return ax


def bare_axis():
    ax = LinearAxis(ticker=FixedTicker(ticks=[]))
    ax.axis_line_width = 2
    ax.axis_line_color = "black"
    ax.major_tick_out = 0
    ax.minor_tick_out = 0
    return ax


def add_text(p, x, y, text, size, color):
    p.add_layout(Label(x=x, y=y, text=text, text_font=BIG_FONT, text_font_size=size,
                       text_color="black", text_alpha=0.45, x_offset=3, y_offset=-3))
    p.add_layout(Label(x=x, y=y, text=text, text_font=BIG_FONT, text_font_size=size,
                       text_color=color))


def add_arrow(p, x, y0, y1):
    p.add_layout(Arrow(start=OpenHead(size=18, line_width=4, line_color="black"),
                       end=OpenHead(size=18, line_width=4, line_color="black"),
                       x_start=x, y_start=y0, x_end=x, y_end=y1,
                       line_width=4, line_color="black"))


def add_level(p, x0, x1, y, color, shadow):
    p.segment(x0=[x0], y0=[y - shadow], x1=[x1], y1=[y - shadow],
              line_color="#777777", line_alpha=0.35, line_width=6)
    p.segment(x0=[x0], y0=[y], x1=[x1], y1=[y], line_color=color, line_width=5)


# ---- title strip ----
title = Div(text="MBE", width=W, height=44, margin=0,
            styles={"font-family": "'Liberation Sans', Arial, sans-serif",
                    "font-size": "48px", "font-weight": "bold", "color": "#2a5cad",
                    "line-height": "50px", "padding-left": "648px",
                    "text-shadow": "3px 3px 3px rgba(0,0,0,0.55)",
                    "box-sizing": "border-box", "overflow": "visible"})

# ---- top panel: deuterium ----
p1 = make_fig(297, -450.3, -364.9, 8, 0)
ax_top = style_axis(LinearAxis(ticker=SingleIntervalTicker(interval=100, num_minor_ticks=10),
                               bounds=(0, 800)))
ax_top.major_label_overrides = {t: "" for t in range(0, 801, 100)}
ax_top.major_label_standoff = 0
p1.add_layout(ax_top, "above")
ax_d = style_axis(LinearAxis(ticker=SingleIntervalTicker(interval=20, num_minor_ticks=4),
                             axis_label="δD (‰)"))
ax_d.major_label_overrides = {v: "%d" % v for v in (-380, -400, -420, -440)}
ax_d.axis_label_standoff = 12
p1.add_layout(ax_d, "left")
p1.add_layout(bare_axis(), "right")

a = np.array(dD_age, dtype=float)
v = np.array(dD_val, dtype=float)
p1.line(a, v, line_color="#a6a6a6", line_width=6)
white, blue, red = (255, 255, 255), (0, 0, 255), (255, 0, 0)


def blend(c1, c2, t):
    return "#%02x%02x%02x" % tuple(int(round(c + (d - c) * t)) for c, d in zip(c1, c2))


palette = [blend(blue, white, i / 127) for i in range(128)] + \
          [blend(white, red, i / 127) for i in range(128)]
seg = ColumnDataSource(dict(x0=a[:-1], y0=v[:-1], x1=a[1:], y1=v[1:],
                            mid=(v[:-1] + v[1:]) / 2))
p1.segment(x0="x0", y0="y0", x1="x1", y1="y1", source=seg, line_width=3.8,
           line_cap="round", line_color=linear_cmap("mid", palette, low=-430, high=-410))

add_level(p1, old_span[0], old_span[1], dD_old_max, "#ff0000", 0.9)
add_level(p1, old_span[0], old_span[1], dD_old_min, "#0000ff", 0.9)
add_level(p1, new_span[0], new_span[1], dD_new_max, "#ff0000", 0.9)
add_level(p1, new_span[0], new_span[1], dD_new_min, "#0000ff", 0.9)
p1.segment(x0=[431.8], y0=[-367.9], x1=[430.1], y1=[-450.3], line_color="#0022ff",
           line_width=5, line_dash="18 10")
add_arrow(p1, 765.3, -393.9, -442.7)
add_arrow(p1, 363.1, -370.8, -447.7)
add_text(p1, 735.1, -409.6, "ΔT < 10 °C", "50px", "#f2411b")
add_text(p1, 342.3, -389.2, "ΔT ~ 14 °C", "50px", "#f2411b")

# ---- middle panel: methane ----
p2 = make_fig(296, 343.8, 923, 0, 0)
ax_c = style_axis(LinearAxis(ticker=SingleIntervalTicker(interval=100, num_minor_ticks=5),
                             axis_label="CH₄ (ppbv)"))
ax_c.axis_label_standoff = 10
ax_c.axis_label_text_font_size = "18px"
p2.add_layout(ax_c, "right")
p2.add_layout(bare_axis(), "left")
o = np.argsort(-np.array(ch4_age), kind="stable")
ca = np.array(ch4_age)[o]
cv = np.array(ch4_val)[o]
p2.line(ca, cv, line_color="#adc2f2", line_width=1.2)
p2.scatter(ca, cv, size=8.5, fill_color="#b6c8ea", line_color="#1c1c2c", line_width=1.6)
p2.segment(x0=[430.1], y0=[923], x1=[428.4], y1=[343.8], line_color="#0022ff",
           line_width=5, line_dash="18 10")

# ---- bottom panel: CO2 ----
p3 = make_fig(361, 170.2, 301.7, 6, 72)
ax_x = style_axis(LinearAxis(ticker=SingleIntervalTicker(interval=100, num_minor_ticks=10),
                             bounds=(0, 800), axis_label="Age (ka)"))
ax_x.major_label_standoff = 6
ax_x.axis_label_standoff = 16
ax_x.axis_label_text_font_style = "bold"
ax_x.axis_label_text_font_size = "19px"
p3.add_layout(ax_x, "below")
ax_co2 = style_axis(LinearAxis(ticker=SingleIntervalTicker(interval=20, num_minor_ticks=4),
                               axis_label="CO₂ (ppmv)"))
ax_co2.axis_label_standoff = 12
p3.add_layout(ax_co2, "left")
p3.add_layout(bare_axis(), "right")
o = np.argsort(-np.array(co2_age), kind="stable")
oa = np.array(co2_age)[o]
ov = np.array(co2_val)[o]
p3.line(oa, ov, line_color="#f5a300", line_width=1.3)
p3.scatter(oa, ov, size=8.5, fill_color="#f7a51c", line_color="#2a1a00", line_width=1.6)
add_level(p3, old_span[0], 430.6, co2_old_max, "#ff0000", 0.7)
add_level(p3, old_span[0], 430.6, co2_old_min, "#0000ff", 0.7)
add_level(p3, new_span_co2[0], new_span_co2[1], co2_new_max, "#ff0000", 0.7)
add_level(p3, new_span_co2[0], new_span_co2[1], co2_new_min, "#0000ff", 0.7)
p3.segment(x0=[428.2], y0=[301.7], x1=[426.6], y1=[173.0], line_color="#0022ff",
           line_width=5, line_dash="18 10")
add_arrow(p3, 769.7, 255.7, 177.7)
add_arrow(p3, 381.4, 299.4, 179.1)
add_text(p3, 752.1, 242.7, "ΔCO₂ ~90 ppm", "46px", "#f59a50")
add_text(p3, 361.2, 276.6, "ΔCO₂ ~130 ppm", "48px", "#f59a50")

layout = column(title, p1, p2, p3, spacing=0)
open("out.html", "w").write(file_html(layout, INLINE))
